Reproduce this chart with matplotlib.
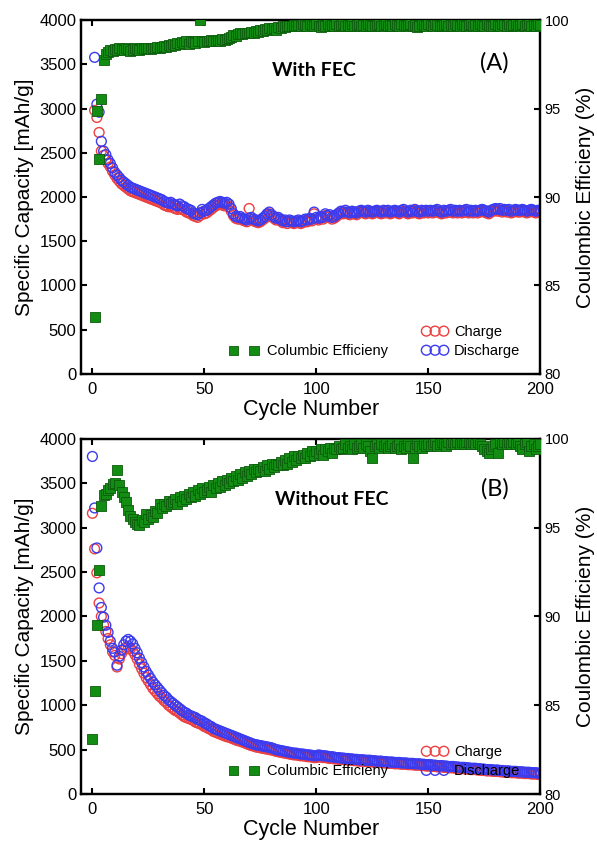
import numpy as np
import matplotlib
matplotlib.use("Agg")
import matplotlib.pyplot as plt

plt.rcParams.update({
    "font.family": ["Liberation Sans", "DejaVu Sans"],
    "axes.linewidth": 1.6,
})

# ---------------- Panel A: with FEC (cycles 1..200) ----------------
cycles_a = np.arange(1, 201)

discharge_a = [
    3580, 3050, 2960, 2630, 2520, 2480, 2420, 2380, 2330, 2280,
    2250, 2220, 2190, 2170, 2150, 2130, 2110, 2100, 2090, 2080,
    2070, 2060, 2050, 2040, 2030, 2020, 2010, 2000, 1990, 1980,
    1970, 1950, 1940, 1930, 1940, 1920, 1910, 1900, 1920, 1900,
    1890, 1870, 1860, 1850, 1820, 1810, 1800, 1820, 1860, 1840,
    1850, 1870, 1890, 1910, 1930, 1940, 1950, 1940, 1930, 1940,
    1920, 1870, 1810, 1780, 1770, 1780, 1760, 1750, 1740, 1760,
    1770, 1750, 1740, 1730, 1740, 1760, 1780, 1810, 1830, 1800,
    1780, 1760, 1770, 1750, 1730, 1740, 1720, 1740, 1730, 1720,
    1730, 1740, 1720, 1730, 1750, 1740, 1760, 1750, 1830, 1770,
    1760, 1780, 1770, 1810, 1790, 1800, 1770, 1780, 1800, 1820,
    1840, 1830, 1850, 1830, 1820, 1840, 1830, 1820, 1840, 1850,
    1840, 1830, 1850, 1840, 1830, 1840, 1850, 1840, 1830, 1850,
    1840, 1850, 1830, 1840, 1850, 1840, 1830, 1850, 1860, 1840,
    1830, 1850, 1840, 1860, 1840, 1830, 1850, 1840, 1850, 1840,
    1850, 1840, 1850, 1860, 1840, 1830, 1850, 1840, 1850, 1860,
    1840, 1850, 1840, 1850, 1840, 1850, 1860, 1840, 1850, 1840,
    1850, 1840, 1850, 1860, 1850, 1840, 1830, 1850, 1860, 1870,
    1860, 1870, 1850, 1860, 1850, 1860, 1840, 1850, 1860, 1850,
    1850, 1860, 1850, 1840, 1850, 1860, 1850, 1840, 1850, 1850,
]

charge_a = [
    2980, 2900, 2730, 2520, 2470, 2420, 2380, 2340, 2290, 2250,
    2210, 2180, 2150, 2130, 2110, 2090, 2070, 2060, 2050, 2040,
    2030, 2020, 2010, 2000, 1990, 1980, 1970, 1960, 1950, 1940,
    1930, 1910, 1900, 1890, 1900, 1880, 1870, 1860, 1870, 1860,
    1850, 1830, 1820, 1810, 1790, 1780, 1770, 1790, 1830, 1810,
    1820, 1840, 1860, 1880, 1900, 1910, 1920, 1910, 1900, 1910,
    1890, 1840, 1790, 1760, 1750, 1760, 1740, 1730, 1720, 1870,
    1750, 1730, 1720, 1710, 1720, 1740, 1760, 1790, 1810, 1780,
    1760, 1740, 1750, 1730, 1710, 1720, 1700, 1720, 1710, 1700,
    1710, 1720, 1700, 1710, 1730, 1720, 1740, 1730, 1810, 1750,
    1740, 1760, 1750, 1790, 1770, 1780, 1750, 1760, 1780, 1800,
    1820, 1810, 1830, 1810, 1800, 1820, 1810, 1800, 1820, 1830,
    1820, 1810, 1830, 1820, 1810, 1820, 1830, 1820, 1810, 1830,
    1820, 1830, 1810, 1820, 1830, 1820, 1810, 1830, 1840, 1820,
    1810, 1830, 1820, 1850, 1820, 1810, 1830, 1820, 1830, 1820,
    1830, 1820, 1830, 1840, 1820, 1810, 1830, 1820, 1830, 1840,
    1820, 1830, 1820, 1830, 1820, 1830, 1840, 1820, 1830, 1820,
    1830, 1820, 1830, 1840, 1830, 1820, 1810, 1830, 1840, 1850,
    1840, 1850, 1830, 1840, 1830, 1840, 1820, 1830, 1840, 1830,
    1830, 1840, 1830, 1820, 1830, 1840, 1830, 1820, 1830, 1830,
]

ce_a = [
    83.2, 94.85, 92.15, 95.55, 97.75, 98.1, 98.2, 98.3, 98.25, 98.35,
    98.3, 98.4, 98.35, 98.3, 98.4, 98.35, 98.25, 98.3, 98.4, 98.35,
    98.3, 98.4, 98.35, 98.4, 98.45, 98.35, 98.45, 98.4, 98.5, 98.45,
    98.5, 98.55, 98.5, 98.6, 98.55, 98.65, 98.6, 98.7, 98.65, 98.75,
    98.7, 98.8, 98.65, 98.85, 98.75, 98.7, 98.85, 100.0, 98.8, 98.75,
    98.85, 98.8, 98.9, 98.85, 98.8, 98.9, 98.85, 98.95, 98.9, 98.95,
    99.0, 99.05, 99.15, 99.1, 99.2, 99.25, 99.2, 99.3, 99.25, 99.3,
    99.35, 99.3, 99.4, 99.35, 99.45, 99.4, 99.5, 99.45, 99.55, 99.5,
    99.55, 99.45, 99.6, 99.55, 99.65, 99.6, 99.7, 99.65, 99.7, 99.75,
    99.7, 99.75, 99.7, 99.8, 99.75, 99.7, 99.8, 99.75, 99.7, 99.8,
    99.7, 99.6, 99.75, 99.7, 99.8, 99.65, 99.75, 99.7, 99.8, 99.7,
    99.75, 99.8, 99.7, 99.75, 99.65, 99.8, 99.7, 99.75, 99.8, 99.7,
    99.75, 99.7, 99.8, 99.75, 99.7, 99.65, 99.75, 99.8, 99.7, 99.75,
    99.8, 99.7, 99.75, 99.7, 99.8, 99.75, 99.7, 99.8, 99.75, 99.7,
    99.75, 99.8, 99.7, 99.75, 99.6, 99.7, 99.8, 99.75, 99.7, 99.8,
    99.75, 99.7, 99.8, 99.75, 99.7, 99.65, 99.75, 99.8, 99.7, 99.75,
    99.7, 99.8, 99.75, 99.7, 99.8, 99.75, 99.7, 99.75, 99.8, 99.7,
    99.75, 99.7, 99.8, 99.75, 99.7, 99.8, 99.75, 99.65, 99.7, 99.8,
    99.75, 99.7, 99.8, 99.75, 99.7, 99.8, 99.7, 99.75, 99.8, 99.7,
    99.75, 99.8, 99.7, 99.75, 99.8, 99.7, 99.75, 99.7, 99.8, 99.75,
]

# ---------------- Panel B: without FEC (cycles 0..200) ----------------
cycles_b = np.arange(0, 201)

discharge_b = [
    3800,
    3220, 2770, 2320, 2100, 1990, 1900, 1820, 1720, 1640, 1600,
    1450, 1550, 1620, 1680, 1720, 1740, 1720, 1690, 1640, 1590,
    1530, 1480, 1430, 1380, 1340, 1300, 1260, 1230, 1200, 1170,
    1140, 1110, 1090, 1060, 1040, 1020, 1000, 980, 960, 940,
    920, 910, 890, 880, 870, 860, 840, 830, 820, 800,
    790, 770, 760, 740, 730, 720, 710, 700, 690, 680,
    670, 660, 650, 640, 630, 620, 610, 600, 590, 580,
    570, 560, 555, 550, 545, 540, 535, 530, 525, 520,
    510, 500, 495, 490, 485, 480, 475, 470, 465, 460,
    460, 455, 450, 450, 445, 440, 440, 435, 430, 430,
    440, 435, 430, 430, 425, 420, 420, 415, 410, 410,
    405, 405, 400, 400, 395, 395, 390, 390, 385, 385,
    385, 380, 380, 380, 375, 375, 370, 370, 370, 365,
    365, 360, 360, 360, 355, 355, 355, 350, 350, 350,
    345, 345, 345, 340, 340, 340, 335, 335, 330, 330,
    330, 325, 325, 320, 320, 320, 315, 315, 310, 310,
    310, 305, 305, 300, 300, 300, 295, 295, 290, 290,
    290, 285, 285, 280, 280, 275, 275, 275, 270, 270,
    270, 265, 265, 260, 260, 260, 255, 255, 255, 250,
    250, 250, 245, 245, 245, 240, 240, 240, 235, 235,
]

charge_b = [
    3160,
    2760, 2490, 2150, 2000, 1900, 1830, 1750, 1680, 1600, 1560,
    1430, 1520, 1580, 1620, 1650, 1660, 1640, 1610, 1570, 1520,
    1460, 1410, 1360, 1310, 1270, 1230, 1190, 1160, 1130, 1100,
    1080, 1050, 1030, 1000, 980, 960, 940, 930, 910, 890,
    870, 860, 850, 840, 830, 810, 800, 790, 780, 760,
    750, 735, 725, 705, 695, 685, 675, 665, 655, 645,
    640, 630, 620, 610, 600, 595, 585, 575, 565, 555,
    545, 540, 530, 525, 520, 515, 510, 505, 500, 495,
    490, 480, 475, 470, 465, 460, 455, 450, 445, 440,
    440, 435, 430, 430, 425, 420, 420, 415, 410, 410,
    420, 415, 410, 410, 405, 400, 400, 395, 395, 390,
    390, 390, 385, 385, 380, 380, 375, 375, 370, 370,
    370, 365, 365, 365, 360, 360, 355, 355, 355, 350,
    350, 345, 345, 345, 340, 340, 340, 335, 335, 335,
    330, 330, 330, 325, 325, 325, 320, 320, 315, 315,
    315, 310, 310, 305, 305, 305, 300, 300, 295, 295,
    295, 290, 290, 285, 285, 285, 280, 280, 275, 275,
    275, 270, 270, 265, 265, 260, 260, 260, 255, 255,
    255, 250, 250, 245, 245, 245, 240, 240, 240, 235,
    235, 235, 230, 230, 230, 225, 225, 225, 220, 220,
]

ce_b = [
    83.1,
    85.8, 89.5, 92.6, 96.2, 96.85, 96.9, 97.1, 97.25, 97.45, 97.5,
    98.25, 97.4, 97.0, 96.7, 96.45, 96.0, 95.65, 95.5, 95.3, 95.2,
    95.15, 95.4, 95.3, 95.75, 95.5, 95.7, 95.6, 95.95, 95.8, 96.3,
    96.1, 96.35, 96.2, 96.5, 96.3, 96.45, 96.6, 96.3, 96.7, 96.5,
    96.8, 96.6, 96.9, 96.7, 97.0, 96.8, 97.1, 96.9, 97.2, 97.0,
    97.1, 97.3, 97.0, 97.4, 97.2, 97.5, 97.3, 97.6, 97.4, 97.7,
    97.5, 97.8, 97.6, 97.9, 97.7, 98.0, 97.8, 98.1, 97.9, 98.2,
    98.0, 98.3, 98.1, 98.3, 98.2, 98.4, 98.2, 98.5, 98.3, 98.6,
    98.4, 98.6, 98.5, 98.7, 98.5, 98.8, 98.6, 98.9, 98.7, 99.0,
    98.8, 99.0, 98.9, 99.1, 98.9, 99.2, 99.0, 99.3, 99.1, 99.3,
    99.2, 99.4, 99.1, 99.4, 99.3, 99.5, 99.2, 99.5, 99.4, 99.6,
    99.4, 99.5, 99.7, 99.5, 99.6, 99.4, 99.7, 99.5, 99.6, 99.7,
    99.5, 99.7, 99.6, 99.3, 98.9, 99.6, 99.7, 99.5, 99.7, 99.6,
    99.7, 99.5, 99.6, 99.7, 99.5, 99.6, 99.7, 99.4, 99.6, 99.5,
    99.7, 99.6, 98.9, 99.5, 99.7, 99.6, 99.5, 99.7, 99.6, 99.7,
    99.6, 99.7, 99.8, 99.6, 99.7, 99.8, 99.7, 99.6, 99.8, 99.7,
    99.8, 99.7, 99.8, 99.7, 99.8, 99.7, 99.8, 99.8, 99.7, 99.8,
    99.7, 99.8, 99.7, 99.6, 99.4, 99.3, 99.2, 99.4, 99.6, 99.7,
    99.2, 99.8, 99.7, 99.8, 99.7, 99.8, 99.7, 99.8, 99.7, 99.8,
    99.6, 99.4, 99.7, 99.8, 99.3, 99.6, 99.7, 99.4, 99.6, 99.7,
]

RED = "#ec4040"
BLUE = "#3b3bef"
GREEN = "#138c13"
GREEN_EDGE = "#0c5c0c"


def draw_panel(ax, cycles, charge, discharge, ce, title, letter,
               title_pos, letter_pos):
    ax.scatter(cycles, charge, s=50, facecolors="none", edgecolors=RED,
               linewidths=1.0, label="Charge", zorder=2)
    ax.scatter(cycles, discharge, s=50, facecolors="none", edgecolors=BLUE,
               linewidths=1.0, label="Discharge", zorder=3)
    ax.set_xlim(-5, 200)
    ax.set_ylim(0, 4000)
    ax.set_xticks([0, 50, 100, 150, 200])
    ax.set_yticks(range(0, 4001, 500))
    ax.set_xlabel("Cycle Number", fontsize=15.5, labelpad=1)
    ax.set_ylabel("Specific Capacity [mAh/g]", fontsize=15, labelpad=4)
    ax.tick_params(axis="both", direction="in", length=4, width=1.5,
                   labelsize=12, top=True)
    ax.tick_params(axis="x", pad=6)

    ax2 = ax.twinx()
    ax2.scatter(cycles, ce, s=44, marker="s", color=GREEN,
                edgecolors=GREEN_EDGE, linewidths=0.6,
                label="Columbic Efficieny", zorder=4)
    ax2.set_ylim(80, 100)
    ax2.set_yticks([80, 85, 90, 95, 100])
    ax2.tick_params(axis="y", direction="in", length=4, width=1.5,
                    labelsize=10.5, pad=3)
    ax2.set_ylabel("Coulombic Efficieny (%)", fontsize=15, labelpad=5)

    ax.text(title_pos[0], title_pos[1], title, transform=ax.transAxes,
            ha="center", va="center", fontsize=14, fontweight="bold",
            family="Lato")
    ax.text(letter_pos[0], letter_pos[1], letter, transform=ax.transAxes,
            ha="center", va="center", fontsize=17, family="Lato")

    ax.legend(loc="lower left", bbox_to_anchor=(0.72, 0.015), frameon=False,
              scatterpoints=3, scatteryoffsets=[0.5], fontsize=10.5,
              handletextpad=0.4, labelspacing=0.35, borderpad=0.2,
              handlelength=1.8)
    ax2.legend(loc="lower left", bbox_to_anchor=(0.3, 0.015), frameon=False,
               scatterpoints=2, scatteryoffsets=[0.5], fontsize=10.5,
               handletextpad=0.6, borderpad=0.2, handlelength=2.0)
    return ax2


fig = plt.figure(figsize=(5.97, 8.42), dpi=100)
ax_a = fig.add_axes([0.136, 0.556, 0.769, 0.420])
ax_b = fig.add_axes([0.136, 0.057, 0.769, 0.422])

draw_panel(ax_a, cycles_a, charge_a, discharge_a, ce_a, "With FEC", "(A)",
           (0.508, 0.859), (0.90, 0.88))
draw_panel(ax_b, cycles_b, charge_b, discharge_b, ce_b, "Without FEC", "(B)",
           (0.545, 0.828), (0.90, 0.86))

fig.savefig("out.png", dpi=100, facecolor="white")
